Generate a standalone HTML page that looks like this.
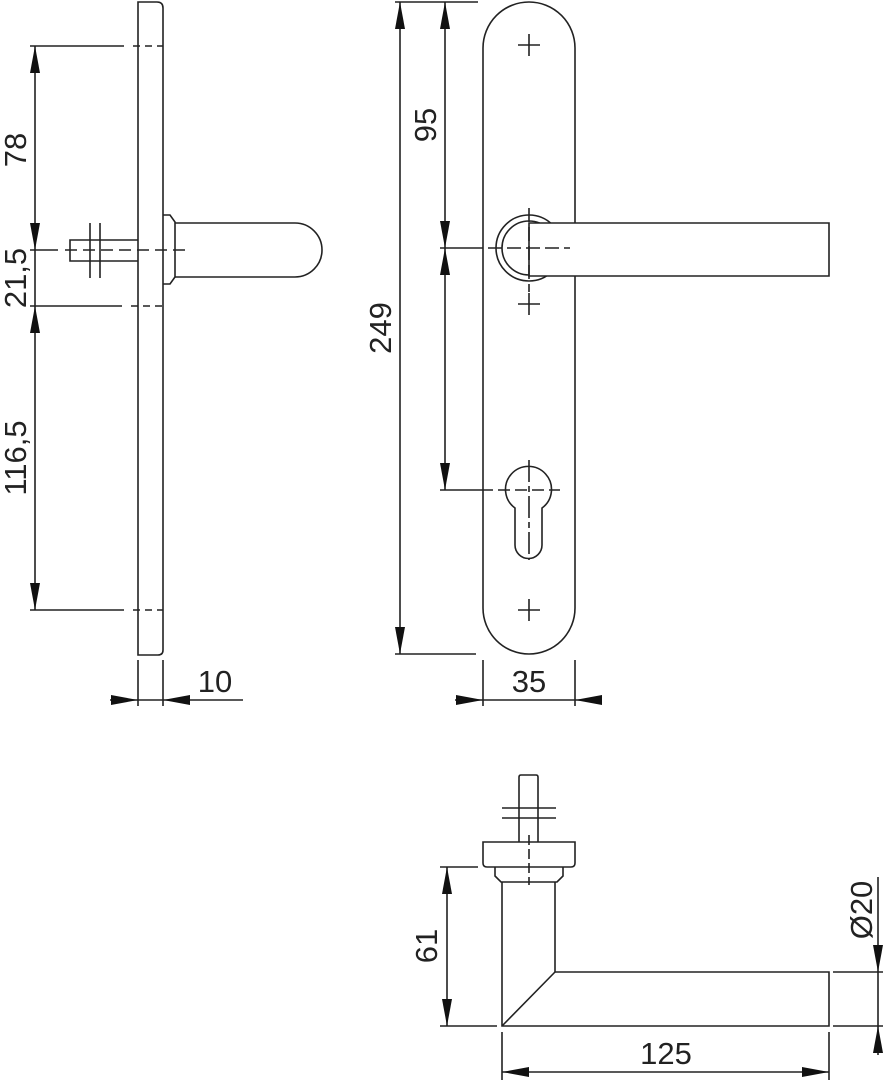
<!DOCTYPE html>
<html><head><meta charset="utf-8"><style>
html,body{margin:0;padding:0;background:#fff}
svg{display:block}
text{font-family:"Liberation Sans",sans-serif;font-size:31px;fill:#222}
</style></head><body>
<svg width="883" height="1080" viewBox="0 0 883 1080" xmlns="http://www.w3.org/2000/svg">
<g stroke="#222" stroke-width="1.6" fill="none">
<!-- SIDE VIEW -->
<path d="M138 655 V2 H157 Q163 2 163 8 V650 Q163 655 158 655 Z"/>
<!-- extension lines -->
<line x1="30" y1="46" x2="124" y2="46"/><line x1="133" y1="46" x2="163" y2="46" stroke-dasharray="7,5"/>
<line x1="30" y1="306" x2="122" y2="306"/><line x1="131" y1="306" x2="163" y2="306" stroke-dasharray="7,5"/>
<line x1="30" y1="610" x2="124" y2="610"/><line x1="133" y1="610" x2="163" y2="610" stroke-dasharray="7,5"/>
<line x1="30" y1="250" x2="58" y2="250"/>
<line x1="35" y1="46" x2="35" y2="610"/>
<!-- collar & lever -->
<path d="M163 215 H170 L175 222 V277 L170 284 H163"/>
<path d="M175 223 H295 A27 27 0 0 1 295 277 H175"/>
<!-- spindle -->
<path d="M138 240 H70 V261 H138"/>
<line x1="90" y1="223" x2="90" y2="278"/><line x1="100" y1="223" x2="100" y2="278"/>
<line x1="65" y1="250" x2="186" y2="250" stroke-dasharray="12,6"/>
<!-- 10 dimension -->
<line x1="138" y1="660" x2="138" y2="706"/><line x1="163" y1="660" x2="163" y2="706"/>
<line x1="110" y1="700" x2="243" y2="700"/>

<!-- FRONT VIEW -->
<path d="M483 48 A46 46 0 0 1 575 48 V608 A46 46 0 0 1 483 608 Z"/>
<circle cx="529" cy="248" r="33"/>
<circle cx="529" cy="248" r="27"/>
<path d="M529 223 H829 V276 H529 Z" fill="#fff"/>
<path d="M518 45 H540 M529 34 V56"/>
<path d="M518 304 H540 M529 293 V315"/>
<path d="M518 610 H540 M529 599 V621"/>
<line x1="529" y1="208" x2="529" y2="292" stroke-dasharray="14,5"/>
<line x1="488" y1="248" x2="570" y2="248" stroke-dasharray="14,5"/>
<!-- keyhole -->
<path d="M515 508 A23 23 0 1 1 542 508 V545 A13.5 13.5 0 0 1 515 545 Z"/>
<line x1="529" y1="460" x2="529" y2="560" stroke-dasharray="22,4,6,4"/>
<line x1="498" y1="490" x2="560" y2="490" stroke-dasharray="12,5"/>
<!-- dims -->
<line x1="395" y1="2" x2="478" y2="2"/>
<line x1="395" y1="654" x2="476" y2="654"/>
<line x1="400" y1="2" x2="400" y2="654"/>
<line x1="445" y1="2" x2="445" y2="490"/>
<line x1="440" y1="248" x2="483" y2="248"/>
<line x1="440" y1="490" x2="493" y2="490"/>
<line x1="483" y1="660" x2="483" y2="706"/><line x1="575" y1="660" x2="575" y2="706"/>
<line x1="455" y1="700" x2="602" y2="700"/>

<!-- BOTTOM VIEW -->
<path d="M519 842 V777 Q519 775 521 775 H536 Q538 775 538 777 V842"/>
<line x1="502" y1="808" x2="556" y2="808"/><line x1="502" y1="818" x2="556" y2="818"/>
<path d="M483 842 H575 V863 Q575 867 571 867 H487 Q483 867 483 863 Z"/>
<path d="M495 867 V876 L501 882 H557 L563 876 V867"/>
<line x1="529" y1="835" x2="529" y2="885" stroke-dasharray="10,4"/>
<path d="M502 882 V1026 H829 V972 H555 V882"/>
<line x1="502" y1="1026" x2="555" y2="972"/>
<line x1="440" y1="867" x2="478" y2="867"/>
<line x1="440" y1="1026" x2="497" y2="1026"/>
<line x1="447" y1="867" x2="447" y2="1026"/>
<line x1="502" y1="1032" x2="502" y2="1080"/><line x1="829" y1="1032" x2="829" y2="1080"/>
<line x1="502" y1="1072" x2="829" y2="1072"/>
<line x1="833" y1="972" x2="883" y2="972"/><line x1="833" y1="1026" x2="883" y2="1026"/>
<line x1="878" y1="877" x2="878" y2="1055"/>
</g>
<g fill="#111">
<!-- side arrows -->
<polygon points="35,46 30,73 40,73"/>
<polygon points="35,250 30,223 40,223"/>
<polygon points="35,306 30,333 40,333"/>
<polygon points="35,610 30,583 40,583"/>
<polygon points="138,700 111,695 111,705"/>
<polygon points="163,700 190,695 190,705"/>
<!-- front arrows -->
<polygon points="400,2 395,29 405,29"/>
<polygon points="400,654 395,627 405,627"/>
<polygon points="445,2 440,29 450,29"/>
<polygon points="445,248 440,221 450,221"/>
<polygon points="445,248 440,275 450,275"/>
<polygon points="445,490 440,463 450,463"/>
<polygon points="483,700 456,695 456,705"/>
<polygon points="575,700 602,695 602,705"/>
<!-- bottom arrows -->
<polygon points="447,867 442,894 452,894"/>
<polygon points="447,1026 442,999 452,999"/>
<polygon points="502,1072 529,1067 529,1077"/>
<polygon points="829,1072 802,1067 802,1077"/>
<polygon points="878,972 873,945 883,945"/>
<polygon points="878,1026 873,1053 883,1053"/>
</g>
<!-- labels -->
<text transform="translate(26,150) rotate(-90)" text-anchor="middle">78</text>
<text transform="translate(26,278) rotate(-90)" text-anchor="middle">21,5</text>
<text transform="translate(26,458) rotate(-90)" text-anchor="middle">116,5</text>
<text x="215" y="692" text-anchor="middle">10</text>
<text transform="translate(391,328) rotate(-90)" text-anchor="middle">249</text>
<text transform="translate(436,125) rotate(-90)" text-anchor="middle">95</text>
<text x="529" y="692" text-anchor="middle">35</text>
<text transform="translate(437,946) rotate(-90)" text-anchor="middle">61</text>
<text x="666" y="1064" text-anchor="middle">125</text>
<text transform="translate(872,910) rotate(-90)" text-anchor="middle">Ø20</text>
</svg>
</body></html>
